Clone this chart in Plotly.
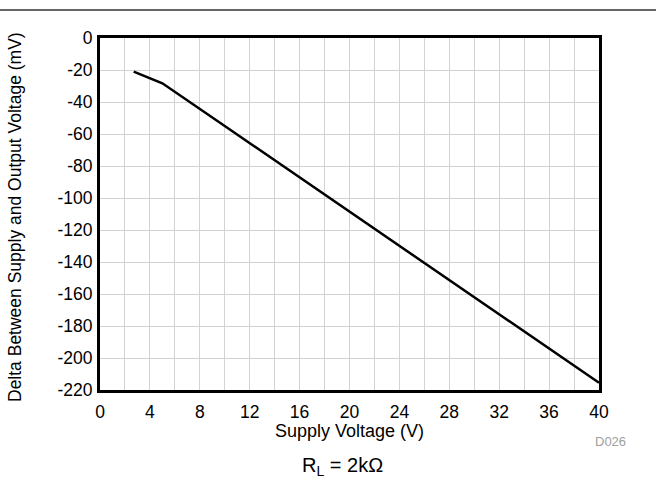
import plotly.graph_objects as go

supply_v = [2.7, 5.0, 10, 20, 30, 40]
delta_mv = [-21.0, -28.3, -55.0, -108.4, -161.7, -215.5]

x_tick_vals = [0, 4, 8, 12, 16, 20, 24, 28, 32, 36, 40]
y_tick_vals = [0, -20, -40, -60, -80, -100, -120, -140, -160, -180, -200, -220]
y_tick_text = ["0", "-20", "-40", "-60", "-80", "-100", "-120", "-140", "-160", "-180", "-200", "-220"]

W, H = 656, 485
L, R, T, B = 100, 57, 38, 95
font = "Liberation Sans, Arial, sans-serif"

fig = go.Figure()
fig.add_trace(go.Scatter(x=supply_v, y=delta_mv, mode="lines",
                         line=dict(color="black", width=2.5), showlegend=False))

fig.update_xaxes(range=[0, 40], tickvals=x_tick_vals,
                 showgrid=True, gridcolor="#d3d3d3", gridwidth=1,
                 showline=True, linecolor="black", linewidth=3, mirror=True,
                 zeroline=False, ticks="", ticklabelstandoff=4,
                 tickfont=dict(size=17.5, color="black", family=font))
fig.update_xaxes(minor=dict(dtick=2, showgrid=True, gridcolor="#d3d3d3", gridwidth=1))
fig.update_yaxes(range=[-220, 0], tickvals=y_tick_vals, ticktext=y_tick_text,
                 showgrid=True, gridcolor="#d3d3d3", gridwidth=1,
                 showline=True, linecolor="black", linewidth=3, mirror=True,
                 zeroline=False, ticks="", ticklabelstandoff=1,
                 tickfont=dict(size=17.5, color="black", family=font))

pw = W - L - R
ph = H - T - B
fig.add_shape(type="line", xref="paper", yref="paper",
              x0=-L / pw, x1=(W - L) / pw, y0=1 + (T - 10) / ph, y1=1 + (T - 10) / ph,
              line=dict(color="#333333", width=1.5))

fig.add_annotation(text="Supply Voltage (V)", xref="paper", yref="paper",
                   x=(349 - L) / pw, y=-(431 - T - ph) / ph, xanchor="center", yanchor="middle",
                   showarrow=False, font=dict(size=18, color="black", family=font))
fig.add_annotation(text="Delta Between Supply and Output Voltage (mV)", xref="paper", yref="paper",
                   x=-(L - 15) / pw, y=(H - B - 217) / ph, xanchor="center", yanchor="middle",
                   textangle=-90, showarrow=False, font=dict(size=17.5, color="black", family=font))
fig.add_annotation(text="D026", xref="paper", yref="paper",
                   x=(610 - L) / pw, y=-(441 - T - ph) / ph, xanchor="center", yanchor="middle",
                   showarrow=False, font=dict(size=13, color="#a0a0a0", family=font))
fig.add_annotation(text="R<sub>L</sub> = 2kΩ", xref="paper", yref="paper",
                   x=(342 - L) / pw, y=-(466 - T - ph) / ph, xanchor="center", yanchor="middle",
                   showarrow=False, font=dict(size=20, color="black", family=font))

fig.update_layout(width=W, height=H, margin=dict(l=L, r=R, t=T, b=B),
                  plot_bgcolor="white", paper_bgcolor="white",
                  font=dict(family=font))
fig.write_html("out.html", config={"displayModeBar": False},
               post_script="document.body.style.margin='0';")
